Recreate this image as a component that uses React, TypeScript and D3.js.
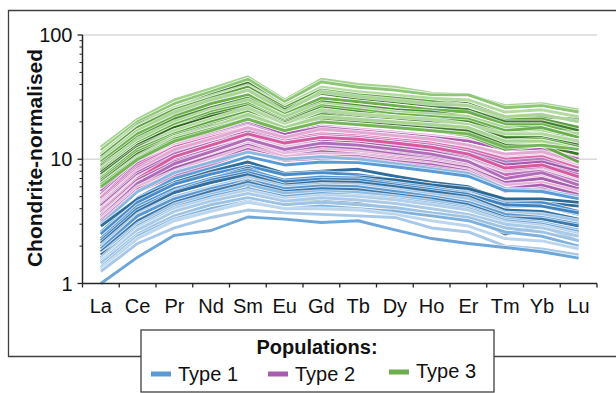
import * as d3 from 'd3';

const ELEMENTS = ['La', 'Ce', 'Pr', 'Nd', 'Sm', 'Eu', 'Gd', 'Tb', 'Dy', 'Ho', 'Er', 'Tm', 'Yb', 'Lu'];
const Y_TICKS = [1, 10, 100];

// chondrite-normalised REE patterns, one row per sample
const TYPE1 = [
  [3.0, 5.5, 7.8, 9.5, 11.4, 10, 10.5, 10, 9.2, 8.4, 7.7, 5.8, 5.6, 5.0],
  [2.6, 4.9, 7, 8.5, 10.5, 9, 9.5, 9.4, 8.7, 8, 7.3, 5.6, 5.5, 4.8],
  [2.9, 4.8, 6.5, 8, 9.5, 7.7, 8, 8.3, 7.3, 6.5, 6, 4.6, 4.5, 4.2],
  [2.5, 4.5, 6.3, 7.6, 8.8, 7.5, 7.8, 7.5, 6.8, 6.2, 5.6, 4.4, 4.5, 3.8],
  [2.0, 3.9, 5.6, 7, 8.5, 6.5, 7, 7.2, 6.8, 6.2, 5.8, 4.8, 4.8, 4.5],
  [2.3, 4.2, 5.8, 7, 8.2, 6.8, 7.2, 7, 6.4, 5.9, 5.3, 4.2, 4.2, 3.6],
  [2.2, 4.0, 5.5, 6.8, 7.8, 6.6, 6.9, 6.8, 6.2, 5.7, 5.2, 4.3, 4.2, 3.7],
  [2.1, 3.8, 5.4, 6.5, 7.5, 6.2, 6.6, 6.5, 6, 5.5, 5, 3.9, 3.8, 3.3],
  [2.0, 3.6, 5, 6, 7.1, 6, 6.3, 6.2, 5.7, 5.2, 4.8, 3.7, 3.6, 3.2],
  [1.9, 3.5, 4.8, 5.8, 6.8, 5.8, 6.1, 6, 5.5, 5, 4.5, 3.6, 3.4, 3.0],
  [1.6, 3.0, 4.2, 5.2, 6.7, 5.2, 5.5, 5.3, 4.9, 4.6, 4.2, 2.9, 3.0, 2.6],
  [1.8, 3.2, 4.5, 5.5, 6.5, 5.5, 5.8, 5.7, 5.2, 4.8, 4.3, 3.4, 3.3, 2.9],
  [1.7, 3.0, 4.3, 5.2, 6.2, 5.3, 5.5, 5.4, 5, 4.6, 4.1, 3.3, 3.1, 2.7],
  [1.7, 2.7, 3.4, 4.4, 5.9, 4.5, 4.6, 4.4, 4.0, 3.7, 3.5, 2.5, 2.9, 2.2],
  [1.6, 2.9, 4.1, 5, 5.8, 5, 5.3, 5.1, 4.8, 4.4, 4, 3.2, 3, 2.6],
  [1.55, 2.8, 4, 4.8, 5.6, 4.8, 5.1, 5, 4.7, 4.3, 3.9, 3.1, 2.9, 2.5],
  [1.5, 2.7, 3.8, 4.6, 5.3, 4.6, 4.9, 4.7, 4.4, 4, 3.6, 3, 2.8, 2.4],
  [1.45, 2.5, 3.5, 4.3, 4.9, 4.3, 4.5, 4.3, 4.1, 3.7, 3.4, 2.8, 2.6, 2.2],
  [1.35, 2.4, 3.3, 4.0, 4.6, 4.0, 4.2, 4.0, 3.8, 3.5, 3.2, 2.6, 2.4, 2.0],
  [1.3, 2.3, 3.2, 3.8, 4.5, 4.0, 4.0, 3.9, 3.6, 3.2, 2.9, 2.3, 2.2, 1.9],
  [1.25, 2.1, 2.8, 3.4, 3.9, 3.7, 3.6, 3.5, 3.4, 2.8, 2.6, 2.0, 1.9, 1.7],
  [1.0, 1.63, 2.44, 2.67, 3.43, 3.3, 3.1, 3.2, 2.7, 2.3, 2.1, 1.95, 1.8, 1.6],
];

const TYPE2 = [
  [5.8, 10.5, 15.5, 17.5, 21, 16.5, 18.5, 17.5, 16.5, 15.5, 14, 12.5, 12.5, 10],
  [5.6, 10.8, 15, 17.5, 20, 15.5, 18, 17.5, 16.5, 15.5, 14.5, 12.5, 12.5, 10.2],
  [5.5, 10, 14.5, 17, 20, 16, 18, 17, 16, 15, 14, 12, 12, 10],
  [5.2, 9.5, 13.5, 16, 19, 15, 17, 16.5, 15.5, 14.5, 13, 11, 11.5, 9.5],
  [5.0, 9, 13, 15.5, 18.5, 14.5, 16.5, 16, 15, 14, 12.5, 10.5, 11, 9],
  [4.9, 9.2, 12.5, 14.5, 17.5, 13, 14.5, 14, 13, 12.5, 11.5, 9.5, 10, 8.5],
  [4.8, 8.8, 12.5, 15, 18, 14.5, 16, 15.5, 14.5, 13.5, 12, 10, 10.5, 8.5],
  [4.6, 8.5, 12, 14.5, 17, 14, 15.5, 15, 14, 13, 11.5, 9.5, 10, 8],
  [4.5, 8, 11.5, 14, 16.5, 13.5, 15, 14.5, 13.5, 12.5, 11, 9, 9.5, 8],
  [4.4, 8.2, 12, 14.5, 18, 15, 17.5, 16.5, 15.5, 14.5, 13, 11, 11.5, 9.5],
  [4.3, 7.8, 11, 13.5, 16, 13, 14.5, 14, 13, 12, 10.5, 8.5, 9, 7.5],
  [4.2, 7.5, 10.5, 13, 15.5, 12.5, 14, 13.5, 12.5, 11.5, 10, 8, 8.5, 7],
  [4.0, 7.2, 10, 12.5, 15, 12.5, 13.5, 13, 12, 11, 9.8, 7.8, 8.2, 6.8],
  [3.9, 7, 9.8, 12, 14.5, 12, 13, 12.5, 11.5, 10.5, 9.5, 7.5, 8, 6.5],
  [3.8, 7, 10.5, 13, 16, 13.5, 15, 14.5, 13.5, 12.5, 11, 8.5, 9, 7.2],
  [3.7, 6.8, 9.5, 11.5, 14, 11.5, 12.5, 12, 11, 10, 9, 7, 7.5, 6.2],
  [3.6, 6.5, 9, 11, 13.5, 11, 12, 11.5, 10.5, 9.8, 8.8, 6.8, 7.2, 6],
  [3.5, 6.2, 8.5, 10.5, 13, 10.5, 11.5, 11, 10.2, 9.5, 8.5, 6.5, 7, 5.8],
  [3.4, 6.4, 9.2, 11.5, 14.5, 12, 13.5, 13, 12, 11, 9.6, 7, 7.8, 6.2],
  [3.3, 6, 8, 10, 12.5, 10.5, 11, 10.8, 10, 9.2, 8.2, 6.2, 6.5, 5.5],
  [3.2, 5.7, 7.6, 9.5, 12, 10, 10.5, 10.5, 9.6, 9, 8, 5.8, 6.2, 5.2],
  [3.1, 5.5, 7.3, 9, 11.5, 9.8, 10.2, 10.2, 9.3, 8.6, 7.8, 5.5, 5.8, 4.8],
];

// the odd sample that plots in orange, mostly hidden under type 2
const OUTLIER = [3.5, 6.5, 9.5, 11, 12.5, 10.5, 11.5, 11, 10.5, 9.8, 9, 7.5, 7.5, 7];

const TYPE3 = [
  [12.5, 21, 30, 37, 46, 30, 44, 40, 38, 34, 33, 27, 28, 25],
  [11.8, 20, 28, 35, 44, 29, 42, 38, 36, 33, 33, 26, 27, 24],
  [11, 19, 26, 33, 41, 27, 38, 34, 32, 30, 28, 22, 22, 21],
  [11, 18.5, 26, 32, 39, 27, 38, 35, 33, 31, 30, 24, 25, 22],
  [10.5, 18, 25, 31, 38, 26, 36, 33, 31, 29, 27, 21, 21, 18],
  [10, 17, 23, 29, 36, 25, 34, 31, 29, 27, 25, 20, 20, 17],
  [9.8, 17, 24, 30, 36, 24, 35, 32, 30, 28, 27, 22, 23, 20],
  [9.5, 16, 22, 28, 33, 23, 31, 29, 27, 25, 24, 19, 19, 16],
  [9, 15, 21, 26, 31, 22, 29, 27, 25, 24, 22, 18, 18, 15],
  [8.8, 14, 19, 24, 29, 21, 27, 25, 24, 22, 21, 17, 17, 14],
  [8.5, 14.5, 20, 25, 30, 22, 28, 26, 24, 23, 22, 18, 17, 16],
  [8.2, 13.5, 19, 24, 28, 20.5, 27, 25, 23, 22, 21, 17, 18, 15],
  [8, 13, 18, 23, 27, 20, 26, 24, 22, 21, 20, 16, 16, 14],
  [7.8, 13, 18, 22, 26, 19.5, 25, 23, 22, 20, 19, 15, 16, 13.5],
  [7.5, 12.5, 17, 21, 25, 19, 24, 22, 21, 20, 19, 15, 15, 13],
  [7.2, 12, 17, 21, 26, 19, 25, 23, 22, 21, 19, 16, 16, 14],
  [7, 12, 16, 20, 24, 18, 23, 21, 20, 19, 18, 14, 14.5, 12.5],
  [6.8, 11.5, 15.5, 19, 23, 18, 22, 21, 20, 18, 17, 13.5, 14, 12],
  [6.5, 11, 15, 18.5, 22, 17.5, 21, 20, 19, 18, 17, 13, 13, 11],
  [6.3, 10.5, 15, 18, 23, 18, 22, 21, 20, 19, 18, 14, 14, 12],
  [6.2, 10.2, 14.5, 17.5, 21, 17, 20, 19, 18, 17, 15.5, 12, 13, 9.5],
  [6.0, 10, 14, 17, 21, 17, 20, 19, 18, 17, 16, 12.5, 13, 12],
];

const LEGEND = ['Type 1', 'Type 2', 'Type 3'];
const LEGEND_COLORS = ['#5b9bd5', '#a75cb0', '#6aaf4b'];

const BLUE_SHADES = [
  '#8ab8e0', '#5b9bd5', '#2f6e9e', '#4a8bc9', '#2c6894', '#5597d2', '#3f82bf', '#336f9f',
  '#a2c6e7', '#5a98d1', '#2e6a96', '#3a78ae', '#8fbbe1', '#2c6690', '#6aa4d8', '#b3d0eb',
  '#a9cae9', '#9cc2e5', '#7fb1de', '#bcd6ee', '#a7c8e8', '#6ea6da',
];
const PURPLE_SHADES = [
  '#b573bc', '#e6b0d7', '#a95fb1', '#b36cba', '#e9b6da', '#ad64b4', '#d96aac', '#b877bf',
  '#a35bab', '#e3a9d3', '#b06ab8', '#a85eb0', '#eab9dc', '#b573bc', '#d75a9e', '#ad66b5',
  '#e8b3d8', '#a65fae', '#b16cb9', '#e6b0d7', '#a95fb1', '#b877bf',
];
const GREEN_SHADES = [
  '#a3d38f', '#8dc775', '#3d7c2a', '#b2db9f', '#5a9e3e', '#3e7f2c', '#a9d695', '#6cb04e',
  '#4a8d33', '#356f23', '#a7d592', '#6aaf4b', '#4c9034', '#2f6a1f', '#3b7a29', '#b0d99c',
  '#5fa443', '#6aaf4b', '#3a7828', '#a6d491', '#62a746', '#74b657',
];

const W = 616;
const H = 393;
const PLOT = { left: 82.5, right: 597, top: 35, bottom: 283.5 };
const FONT = '"Liberation Sans", Arial, sans-serif';

export default function App() {
  const x = d3.scaleBand<string>().domain(ELEMENTS).range([PLOT.left, PLOT.right]);
  const cx = (i: number) => x(ELEMENTS[i])! + x.bandwidth() / 2;
  const y = d3.scaleLog().domain([1, 100]).range([PLOT.bottom, PLOT.top]);
  const line = d3
    .line<number>()
    .x((_, i) => cx(i))
    .y((v) => y(v));

  const minorTicks = d3.range(2, 10).flatMap((m) => [m, m * 10]);
  const boundaries = d3.range(ELEMENTS.length + 1).map((i) => PLOT.left + i * x.step());

  const groups = [
    { rows: [OUTLIER], shades: ['#c0622f'] },
    { rows: TYPE2, shades: PURPLE_SHADES },
    { rows: TYPE3, shades: GREEN_SHADES },
    { rows: TYPE1, shades: BLUE_SHADES },
  ];

  const legendX = [151, 268, 389];

  return (
    <div style={{ position: 'fixed', left: 0, top: 0 }}>
      <svg width={W} height={H} viewBox={`0 0 ${W} ${H}`} style={{ display: 'block', fontFamily: FONT }}>
        <rect width={W} height={H} fill="#fff" />
        {/* outer frame, runs off to the right */}
        <path d={`M630,10.5 H8.5 V356.5 H630`} fill="none" stroke="#404040" strokeWidth={1.3} />

        {Y_TICKS.filter((t) => t > 1).map((t) => (
          <line key={t} x1={PLOT.left} x2={PLOT.right} y1={y(t)} y2={y(t)} stroke="#d9d9d9" strokeWidth={1.3} />
        ))}

        {groups.map((g, gi) => (
          <g key={gi}>
            {g.rows.map((row, ri) => (
              <g key={ri}>
                <path d={line(row)!} fill="none" stroke="#fff" strokeWidth={4.6} strokeOpacity={0.7} strokeLinejoin="round" />
                <path
                  d={line(row)!}
                  fill="none"
                  stroke={g.shades[ri % g.shades.length]}
                  strokeWidth={2.9}
                  strokeLinejoin="round"
                />
              </g>
            ))}
          </g>
        ))}

        {/* y axis */}
        <line x1={PLOT.left} x2={PLOT.left} y1={PLOT.top} y2={PLOT.bottom} stroke="#262626" strokeWidth={1.5} />
        {Y_TICKS.map((t) => (
          <g key={t}>
            <line x1={PLOT.left - 5} x2={PLOT.left} y1={y(t)} y2={y(t)} stroke="#262626" strokeWidth={1.3} />
            <text x={PLOT.left - 10} y={y(t)} dy="0.35em" textAnchor="end" fontSize={20} fill="#111">
              {t}
            </text>
          </g>
        ))}
        {minorTicks.map((t) => (
          <line key={t} x1={PLOT.left - 3} x2={PLOT.left} y1={y(t)} y2={y(t)} stroke="#262626" strokeWidth={1} />
        ))}

        {/* x axis */}
        <line x1={PLOT.left} x2={PLOT.right} y1={PLOT.bottom} y2={PLOT.bottom} stroke="#262626" strokeWidth={1.5} />
        {boundaries.map((bx, i) => (
          <line key={i} x1={bx} x2={bx} y1={PLOT.bottom} y2={PLOT.bottom + 4} stroke="#262626" strokeWidth={1.3} />
        ))}
        {ELEMENTS.map((e, i) => (
          <text key={e} x={cx(i)} y={313} textAnchor="middle" fontSize={20} fill="#111">
            {e}
          </text>
        ))}

        <text
          transform={`translate(42,158) rotate(-90)`}
          textAnchor="middle"
          fontSize={21}
          fontWeight="bold"
          fill="#111"
        >
          Chondrite-normalised
        </text>

        {/* legend */}
        <rect x={141} y={330} width={353} height={62} fill="#fff" stroke="#404040" strokeWidth={1.3} />
        <text x={317} y={354} textAnchor="middle" fontSize={20} fontWeight="bold" fill="#111">
          Populations:
        </text>
        {LEGEND.map((label, i) => (
          <g key={label}>
            <line
              x1={legendX[i]}
              x2={legendX[i] + 20}
              y1={i === 2 ? 372 : 374}
              y2={i === 2 ? 372 : 374}
              stroke={LEGEND_COLORS[i]}
              strokeWidth={5}
            />
            <text x={legendX[i] + 27} y={i === 2 ? 378 : 381} fontSize={20} fill="#111">
              {label}
            </text>
          </g>
        ))}
      </svg>
    </div>
  );
}
